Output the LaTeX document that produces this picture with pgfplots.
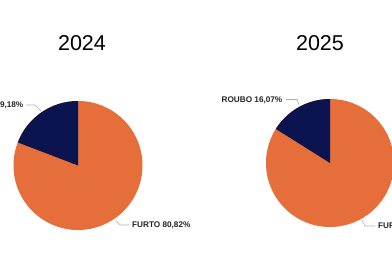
\documentclass[border=0pt]{standalone}
\usepackage{pgfplots}
\pgfplotsset{compat=1.18}
\usepackage{fontspec}
\setmainfont{Liberation Sans}
\definecolor{pbiorange}{RGB}{230,110,58}
\definecolor{pbinavy}{RGB}{12,20,80}
\definecolor{lblgray}{RGB}{37,36,35}
\definecolor{leadgray}{RGB}{175,175,175}
% pie: {cx}{cy}{r}{roubo percent}
\newcommand{\pie}[4]{%
  \fill[pbiorange] (axis cs:#1,#2) circle[radius=#3pt];
  \fill[pbinavy] (axis cs:#1,#2) -- ++(90:#3pt) arc[start angle=90, delta angle=3.6*#4, radius=#3pt] -- cycle;
}
\begin{document}
\begin{tikzpicture}
\begin{axis}[
  width=392pt, height=272pt, scale only axis,
  xmin=0, xmax=392, ymin=0, ymax=272,
  hide axis, clip=false,
]
% values: ROUBO / FURTO
\pie{78}{106.5}{64.5}{19.18}   % 2024: ROUBO 19.18, FURTO 80.82
\pie{330}{109}{64}{16.07}      % 2025: ROUBO 16.07, FURTO 83.93
\node[font=\fontsize{21.5}{24}\selectfont, text=black] at (axis cs:82,229) {2024};
\node[font=\fontsize{21.5}{24}\selectfont, text=black] at (axis cs:320,229) {2025};
\draw[leadgray, line width=0.6pt] (axis cs:26,167) -- (axis cs:35,167) -- (axis cs:41,161);
\draw[leadgray, line width=0.6pt] (axis cs:286,172.5) -- (axis cs:297,172.5) -- (axis cs:299,167);
\draw[leadgray, line width=0.6pt] (axis cs:116,51.5) -- (axis cs:120,47) -- (axis cs:129,47);
\draw[leadgray, line width=0.6pt] (axis cs:362,52) -- (axis cs:365,46) -- (axis cs:375,46);
\node[anchor=east, inner sep=0, font=\bfseries\fontsize{8.2}{9}\selectfont, text=lblgray] at (axis cs:23.5,166.5) {ROUBO 19,18\%};
\node[anchor=east, inner sep=0, font=\bfseries\fontsize{8.2}{9}\selectfont, text=lblgray] at (axis cs:282.5,171.5) {ROUBO 16,07\%};
\node[anchor=west, inner sep=0, font=\bfseries\fontsize{8.2}{9}\selectfont, text=lblgray] at (axis cs:132,46.5) {FURTO 80,82\%};
\node[anchor=west, inner sep=0, font=\bfseries\fontsize{8.2}{9}\selectfont, text=lblgray] at (axis cs:378,45.5) {FURTO 83,93\%};
\end{axis}
\pgfresetboundingbox
\useasboundingbox (0,0) rectangle (392pt,272pt);
\end{tikzpicture}
\end{document}
